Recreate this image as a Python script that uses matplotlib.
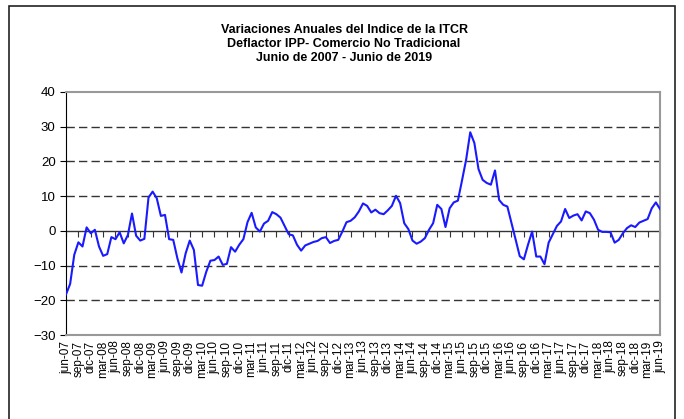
import matplotlib
matplotlib.use("Agg")
import matplotlib.pyplot as plt
from matplotlib.patches import Rectangle

plt.rcParams['font.family'] = ['Liberation Sans', 'DejaVu Sans']

# variacion anual (%), mensual jun-07 .. jun-19
variacion = [
    -18.3, -15.3, -6.9, -3.3, -4.5, 1.0, -0.7, 0.3, -4.5, -7.2, -6.7, -1.8,
    -2.4, -0.4, -3.6, -1.2, 5.0, -1.4, -2.8, -2.3, 9.6, 11.3, 9.4, 4.3,
    4.6, -2.4, -2.6, -7.9, -12.0, -6.5, -2.8, -5.5, -15.6, -15.8, -11.8, -8.6,
    -8.4, -7.4, -9.8, -9.5, -4.7, -6.0, -4.0, -2.4, 2.5, 5.2, 1.0, -0.2,
    2.1, 2.9, 5.4, 4.8, 3.8, 1.4, -1.0, -1.3, -4.0, -5.7, -4.2, -3.7,
    -3.2, -2.9, -2.1, -1.8, -3.5, -2.9, -2.6, -0.2, 2.5, 2.9, 3.9, 5.6,
    7.9, 7.2, 5.3, 6.1, 5.1, 4.8, 5.9, 7.2, 10.1, 8.0, 2.2, 0.5,
    -2.8, -3.7, -3.1, -2.1, 0.3, 2.2, 7.5, 6.3, 1.1, 6.5, 8.2, 8.7,
    14.5, 20.5, 28.4, 25.3, 17.8, 14.7, 13.8, 13.3, 17.4, 8.9, 7.5, 7.0,
    2.3, -2.5, -7.3, -8.2, -4.0, -0.2, -7.4, -7.4, -9.6, -3.4, -1.0, 1.4,
    2.7, 6.3, 3.7, 4.4, 4.8, 3.0, 5.6, 5.1, 3.2, 0.3, -0.3, -0.3,
    -0.4, -3.4, -2.6, -0.7, 0.8, 1.6, 1.1, 2.4, 2.9, 3.4, 6.5, 8.2,
    6.3,
]
meses = ['jun', 'sep', 'dic', 'mar']
etiquetas = []
for k in range(49):
    anio = 7 + (k + 1) // 4
    etiquetas.append(f"{meses[k % 4]}-{anio:02d}")
x = list(range(len(variacion)))
x_ticks = list(range(0, len(variacion), 3))

fig = plt.figure(figsize=(6.84, 4.19), dpi=100)
ax = fig.add_axes([66 / 684, 1 - 335 / 419, 594 / 684, 243 / 419])

# marco exterior
fig.patches.append(Rectangle((9 / 684, -0.05), 666 / 684, 1.05 - 6 / 419,
                             transform=fig.transFigure, fill=False,
                             edgecolor='#222222', linewidth=1.2))

fig.text(0.503, 1 - 44 / 419,
         "Variaciones Anuales del Indice de la ITCR\n"
         "Deflactor IPP- Comercio No Tradicional\n"
         "Junio de 2007 - Junio de 2019",
         ha='center', va='center', fontsize=9, fontweight='bold',
         linespacing=1.25)

for v in [30, 20, 10, -10, -20]:
    ax.axhline(v, color='#333333', lw=1, dashes=(6, 3), zorder=1)
ax.axhline(0, color='#333333', lw=1, zorder=1)

ax.plot(x, variacion, color='#1a1aff', lw=1.5, zorder=3)

ax.set_xlim(0, 144)
ax.set_ylim(-30, 40)
ax.set_yticks(range(-30, 41, 10))
ax.tick_params(axis='y', labelsize=9.5, length=4, direction='out', color='black')
ax.set_xticks(x_ticks)
ax.set_xticklabels(etiquetas, rotation=90, fontsize=8.5)
ax.tick_params(axis='x', length=0, pad=4)

ax.spines['left'].set_color('black')
for s in ['top', 'right', 'bottom']:
    ax.spines[s].set_color('#999999')
    ax.spines[s].set_linewidth(1.5)

# marcas sobre el eje cero
sec = ax.secondary_xaxis(30 / 70)
sec.set_xticks(x_ticks)
sec.set_xticklabels([])
sec.tick_params(axis='x', length=4, direction='out', color='#333333')
sec.spines['bottom'].set_visible(False)

fig.savefig("out.png", dpi=100)
